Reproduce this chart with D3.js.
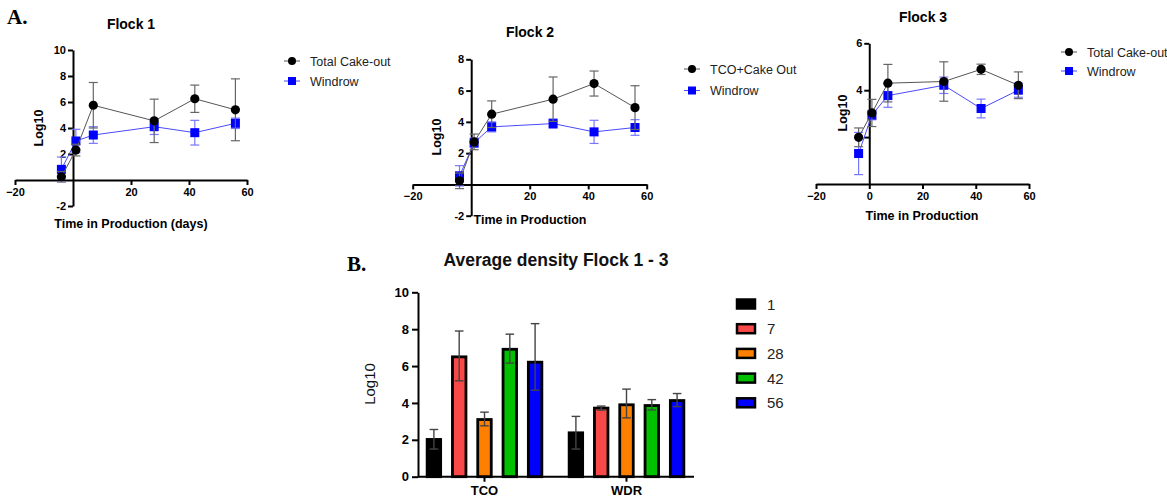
<!DOCTYPE html>
<html>
<head>
<meta charset="utf-8">
<script src="https://cdn.jsdelivr.net/npm/d3@7"></script>
<style>
body { margin: 0; background: #fff; }
svg text { font-family: "Liberation Sans", Arial, sans-serif; }
</style>
</head>
<body>
<div id="chart"></div>
<script>
// sampling days (x values of the line panels)
var days = [-4, 1, 7, 28, 42, 56];

var flock1Cake = [0.25, 2.3, 5.75, 4.55, 6.25, 5.4];
var flock1CakeSd = [0.4, 0.45, 1.75, 1.67, 1.05, 2.38];
var flock1Windrow = [0.82, 3.0, 3.46, 4.1, 3.64, 4.36];
var flock1WindrowSd = [0.95, 0.9, 0.64, 0.6, 0.95, 0.4];

var flock2Cake = [0.23, 2.72, 4.49, 5.45, 6.45, 4.91];
var flock2CakeSd = [0.5, 0.5, 0.85, 1.42, 0.8, 1.4];
var flock2Windrow = [0.55, 2.66, 3.68, 3.89, 3.36, 3.64];
var flock2WindrowSd = [0.65, 0.3, 0.32, 0.3, 0.74, 0.5];

var flock3Cake = [1.99, 3.03, 4.3, 4.37, 4.89, 4.21];
var flock3CakeSd = [0.4, 0.58, 0.8, 0.84, 0.22, 0.57];
var flock3Windrow = [1.3, 2.94, 3.77, 4.21, 3.22, 4.0];
var flock3WindrowSd = [0.9, 0.2, 0.5, 0.35, 0.4, 0.3];

var xTicks = [-20, 20, 40, 60];
var xTicks3 = [-20, 0, 20, 40, 60];

// bar chart data
var groups = ["TCO", "WDR"];
var barDays = ["1", "7", "28", "42", "56"];
var barColors = ["#000000", "#F84848", "#FF8000", "#00C000", "#0000FF"];
var tcoMean = [2.02, 6.5, 3.1, 6.91, 6.21];
var tcoUp = [2.56, 7.9, 3.5, 7.73, 8.3];
var tcoLow = [1.5, 5.2, 2.76, 6.16, 4.69];
var wdrMean = [2.38, 3.72, 3.9, 3.86, 4.13];
var wdrUp = [3.27, 3.83, 4.75, 4.18, 4.51];
var wdrLow = [1.5, 3.61, 3.19, 3.62, 3.8];
var barYTicks = [0, 2, 4, 6, 8, 10];

var SANS = "'Liberation Sans', Arial, sans-serif";
var SERIF = "'Liberation Serif', 'Times New Roman', serif";

var svg = d3.select("#chart").append("svg")
    .attr("width", 1167)
    .attr("height", 501);

// panel letters
svg.append("text").attr("x", 7).attr("y", 24)
    .style("font-family", SERIF)
    .style("font-weight", "bold").style("font-size", "21px").text("A.");
svg.append("text").attr("x", 347).attr("y", 271)
    .style("font-family", SERIF)
    .style("font-weight", "bold").style("font-size", "21px").text("B.");

function styleAxis(a, size) {
    a.select(".domain").attr("stroke", "#000").attr("stroke-width", 2);
    a.selectAll(".tick line").attr("stroke", "#000").attr("stroke-width", 2);
    a.selectAll(".tick text")
        .style("font-family", SANS)
        .style("font-weight", "bold")
        .style("font-size", size + "px")
        .attr("fill", "#000");
}

function label(g, x, y, txt, size, bold, anchor) {
    return g.append("text").attr("x", x).attr("y", y)
        .attr("text-anchor", anchor || "start")
        .style("font-family", SANS)
        .style("font-weight", bold ? "bold" : "normal")
        .style("font-size", size + "px")
        .text(txt);
}

function linePanel(p) {
    var x = d3.scaleLinear().domain([-20, 60]).range(p.xr);
    var y = d3.scaleLinear().domain(p.yd).range(p.yr);
    var g = svg.append("g");

    var ax = g.append("g")
        .attr("transform", "translate(0," + y(0) + ")")
        .call(d3.axisBottom(x).tickValues(p.xt).tickSize(5).tickSizeOuter(0).tickPadding(3));
    styleAxis(ax, 11);

    var ay = g.append("g")
        .attr("transform", "translate(" + x(0) + ",0)")
        .call(d3.axisLeft(y).tickValues(p.yt).tickSize(5).tickSizeOuter(0).tickPadding(2)
            .tickFormat(function (d) { return p.hide.indexOf(d) >= 0 ? "" : d; }));
    styleAxis(ay, 11);

    var series = [
        { v: p.win, sd: p.winSd, line: "#4a4aff", err: "#7777ff", fill: "#0000ff", shape: "square" },
        { v: p.cake, sd: p.cakeSd, line: "#555", err: "#666", fill: "#000", shape: "circle" }
    ];

    series.forEach(function (s) {
        var pts = days.map(function (d, i) { return { x: d, y: s.v[i], sd: s.sd[i] }; });
        var line = d3.line().x(function (d) { return x(d.x); }).y(function (d) { return y(d.y); });
        g.append("path").datum(pts).attr("d", line)
            .attr("fill", "none").attr("stroke", s.line).attr("stroke-width", 1);
        var eb = g.selectAll(null).data(pts).enter().append("g");
        eb.append("line")
            .attr("x1", function (d) { return x(d.x); }).attr("x2", function (d) { return x(d.x); })
            .attr("y1", function (d) { return y(d.y - d.sd); }).attr("y2", function (d) { return y(d.y + d.sd); })
            .attr("stroke", s.err).attr("stroke-width", 1.2);
        [-1, 1].forEach(function (k) {
            eb.append("line")
                .attr("x1", function (d) { return x(d.x) - 4.5; }).attr("x2", function (d) { return x(d.x) + 4.5; })
                .attr("y1", function (d) { return y(d.y + k * d.sd); }).attr("y2", function (d) { return y(d.y + k * d.sd); })
                .attr("stroke", s.err).attr("stroke-width", 1.2);
        });
        if (s.shape === "circle") {
            g.selectAll(null).data(pts).enter().append("circle")
                .attr("cx", function (d) { return x(d.x); }).attr("cy", function (d) { return y(d.y); })
                .attr("r", 4.6).attr("fill", s.fill);
        } else {
            g.selectAll(null).data(pts).enter().append("rect")
                .attr("x", function (d) { return x(d.x) - 4.5; }).attr("y", function (d) { return y(d.y) - 4.5; })
                .attr("width", 9).attr("height", 9).attr("fill", s.fill);
        }
    });

    // title and axis labels
    label(g, p.title[0], p.title[1], p.name, 14, true, "middle");
    label(g, p.xlab[0], p.xlab[1], p.xlabel, 12.5, true, "middle");
    label(g, 0, 0, "Log10", 12.5, true, "middle")
        .attr("transform", "translate(" + p.ylab[0] + "," + p.ylab[1] + ") rotate(-90)");

    // legend
    var leg = [
        { name: p.cakeName, line: "#555", fill: "#000", shape: "circle" },
        { name: "Windrow", line: "#4a4aff", fill: "#0000ff", shape: "square" }
    ];
    leg.forEach(function (l, i) {
        var lx = p.leg[0], ly = p.leg[1] + i * p.leg[2];
        g.append("line").attr("x1", lx - 8).attr("x2", lx + 8).attr("y1", ly).attr("y2", ly)
            .attr("stroke", l.line).attr("stroke-width", 1);
        if (l.shape === "circle") {
            g.append("circle").attr("cx", lx).attr("cy", ly).attr("r", 4).attr("fill", l.fill);
        } else {
            g.append("rect").attr("x", lx - 4).attr("y", ly - 4).attr("width", 8).attr("height", 8).attr("fill", l.fill);
        }
        label(g, lx + 18, ly + 4.5, l.name, 12.5, false).attr("fill", "#222");
    });
}

linePanel({
    name: "Flock 1", cakeName: "Total Cake-out", xlabel: "Time in Production (days)",
    xr: [15, 247], yd: [-2, 10], yr: [206, 50], xt: xTicks, yt: [-2, 2, 4, 6, 8, 10], hide: [],
    cake: flock1Cake, cakeSd: flock1CakeSd, win: flock1Windrow, winSd: flock1WindrowSd,
    title: [131, 29], xlab: [131, 228], ylab: [43, 128], leg: [292, 61, 20]
});

linePanel({
    name: "Flock 2", cakeName: "TCO+Cake Out", xlabel: "Time in Production",
    xr: [412.7, 646.7], yd: [-2, 8], yr: [215.7, 59.3], xt: xTicks, yt: [-2, 2, 4, 6, 8], hide: [],
    cake: flock2Cake, cakeSd: flock2CakeSd, win: flock2Windrow, winSd: flock2WindrowSd,
    title: [530, 37], xlab: [530, 224], ylab: [441, 137], leg: [692, 69, 21.5]
});

linePanel({
    name: "Flock 3", cakeName: "Total Cake-out", xlabel: "Time in Production",
    xr: [816, 1029], yd: [0, 6], yr: [184, 43.3], xt: xTicks3, yt: [2, 4, 6], hide: [2],
    cake: flock3Cake, cakeSd: flock3CakeSd, win: flock3Windrow, winSd: flock3WindrowSd,
    title: [923, 22], xlab: [922, 220], ylab: [847, 113], leg: [1069, 52, 19]
});

// ---- bar chart ----
var bx = d3.scaleBand().domain(groups).range([413.5, 697.5]);
var inner = d3.scalePoint().domain(barDays).range([-50.6, 50.6]);
var by = d3.scaleLinear().domain([0, 10]).range([476.7, 292.3]);
var bw = 13.5;

var bars = [];
groups.forEach(function (gname, gi) {
    var m = gi === 0 ? tcoMean : wdrMean;
    var up = gi === 0 ? tcoUp : wdrUp;
    var lo = gi === 0 ? tcoLow : wdrLow;
    barDays.forEach(function (d, i) {
        bars.push({ g: gname, d: d, v: m[i], up: up[i], lo: lo[i], c: barColors[i] });
    });
});

var bg = svg.append("g");
function cx(d) { return bx(d.g) + bx.bandwidth() / 2 + inner(d.d); }

bg.selectAll("rect.bar").data(bars).enter().append("rect")
    .attr("class", "bar")
    .attr("x", function (d) { return cx(d) - bw / 2; })
    .attr("y", function (d) { return by(d.v); })
    .attr("width", bw)
    .attr("height", function (d) { return by(0) - by(d.v); })
    .attr("fill", function (d) { return d.c; })
    .attr("stroke", "#000").attr("stroke-width", 2.8);

var be = bg.selectAll("g.err").data(bars).enter().append("g").attr("class", "err");
be.append("line")
    .attr("x1", cx).attr("x2", cx)
    .attr("y1", function (d) { return by(d.lo); }).attr("y2", function (d) { return by(d.up); })
    .attr("stroke", "#444").attr("stroke-width", 1.4);
be.append("line")
    .attr("x1", function (d) { return cx(d) - 4.3; }).attr("x2", function (d) { return cx(d) + 4.3; })
    .attr("y1", function (d) { return by(d.up); }).attr("y2", function (d) { return by(d.up); })
    .attr("stroke", "#444").attr("stroke-width", 1.4);
be.append("line")
    .attr("x1", function (d) { return cx(d) - 4.3; }).attr("x2", function (d) { return cx(d) + 4.3; })
    .attr("y1", function (d) { return by(d.lo); }).attr("y2", function (d) { return by(d.lo); })
    .attr("stroke", "#444").attr("stroke-width", 1.4);

var bxa = bg.append("g").attr("transform", "translate(0," + by(0) + ")")
    .call(d3.axisBottom(bx).tickSize(5).tickSizeOuter(0).tickPadding(4));
bxa.select(".domain").attr("d", "M418,0H694");
styleAxis(bxa, 13);

var bya = bg.append("g").attr("transform", "translate(418,0)")
    .call(d3.axisLeft(by).tickValues(barYTicks).tickSize(6).tickSizeOuter(0).tickPadding(3));
styleAxis(bya, 13);

label(bg, 556, 266, "Average density Flock 1 - 3", 17.5, true, "middle").attr("fill", "#111");
label(bg, 0, 0, "Log10", 15, false, "middle").attr("fill", "#111")
    .attr("transform", "translate(375,384) rotate(-90)");

barDays.forEach(function (d, i) {
    var ly = 304 + i * 24.7;
    bg.append("rect").attr("x", 737).attr("y", ly - 4.5).attr("width", 18).attr("height", 9)
        .attr("fill", barColors[i]).attr("stroke", "#000").attr("stroke-width", 2.5);
    label(bg, 767, ly + 5.5, d, 15, false).attr("fill", "#222");
});
</script>
</body>
</html>
